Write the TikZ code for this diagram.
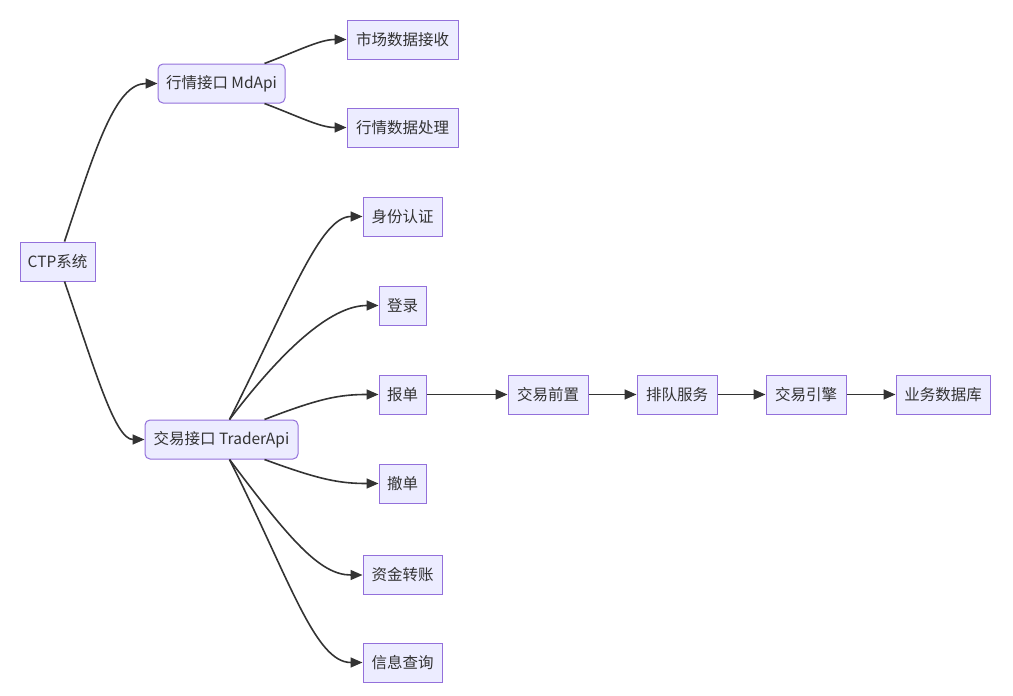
\documentclass[tikz,border=0pt]{standalone}
\usepackage{fontspec}
\setmainfont{Noto Sans CJK SC}
\usetikzlibrary{arrows.meta}
\definecolor{nodefill}{HTML}{ECECFF}
\definecolor{nodeline}{HTML}{9370DB}
\definecolor{edge}{HTML}{333333}
\begin{document}
\begin{tikzpicture}[x=1pt,y=-1pt,
  box/.style={draw=nodeline,fill=nodefill,line width=1pt,minimum height=39pt,inner sep=0pt,
    font=\fontsize{15.5}{18}\selectfont,text=edge},
  rbox/.style={box,rounded corners=5pt},
  link/.style={draw=edge,line width=1.6pt,-{Triangle[length=12pt,width=10pt]}}]
\useasboundingbox (0,0) rectangle (1013,696);
\node[box,minimum width=75pt] (ctp) at (57.5,261.5) {CTP系统};
\node[rbox,minimum width=127pt] (md) at (221.5,83.5) {行情接口 MdApi};
\node[box,minimum width=111pt] (sc) at (402.5,39.5) {市场数据接收};
\node[box,minimum width=111pt] (hq) at (402.5,127.5) {行情数据处理};
\node[rbox,minimum width=153pt] (td) at (221.5,439.5) {交易接口 TraderApi};
\node[box,minimum width=79pt] (sf) at (402.5,216.5) {身份认证};
\node[box,minimum width=47pt] (dl) at (402.5,305.5) {登录};
\node[box,minimum width=47pt] (bd) at (402.5,394.5) {报单};
\node[box,minimum width=47pt] (cd) at (402.5,483.5) {撤单};
\node[box,minimum width=79pt] (zj) at (402.5,575) {资金转账};
\node[box,minimum width=79pt] (xx) at (402.5,662.5) {信息查询};
\node[box,minimum width=80pt] (qz) at (548,394.5) {交易前置};
\node[box,minimum width=80pt] (pd) at (677,394.5) {排队服务};
\node[box,minimum width=80pt] (yq) at (806,394.5) {交易引擎};
\node[box,minimum width=94pt] (db) at (943,394.5) {业务数据库};

\draw[link] ([xshift=7]ctp.north) .. controls (95,150) and (115,83.5) .. (md.west);
\draw[link] ([xshift=7]ctp.south) .. controls (95,370) and (115,439.5) .. (td.west);
\draw[link] ([xshift=43]md.north) .. controls (300,50) and (320,39.5) .. (sc.west);
\draw[link] ([xshift=43]md.south) .. controls (300,117) and (320,127.5) .. (hq.west);
\draw[link] ([xshift=8]td.north) .. controls (290,300) and (320,216.5) .. (sf.west);
\draw[link] ([xshift=8]td.north) .. controls (290,340) and (335,305.5) .. (dl.west);
\draw[link] ([xshift=43]td.north) .. controls (320,398) and (340,394.5) .. (bd.west);
\draw[link] ([xshift=43]td.south) .. controls (320,480) and (340,483.5) .. (cd.west);
\draw[link] ([xshift=8]td.south) .. controls (290,540) and (320,575) .. (zj.west);
\draw[link] ([xshift=8]td.south) .. controls (290,580) and (315,662.5) .. (xx.west);
\draw[link] (bd) -- (qz);
\draw[link] (qz) -- (pd);
\draw[link] (pd) -- (yq);
\draw[link] (yq) -- (db);
\end{tikzpicture}
\end{document}
